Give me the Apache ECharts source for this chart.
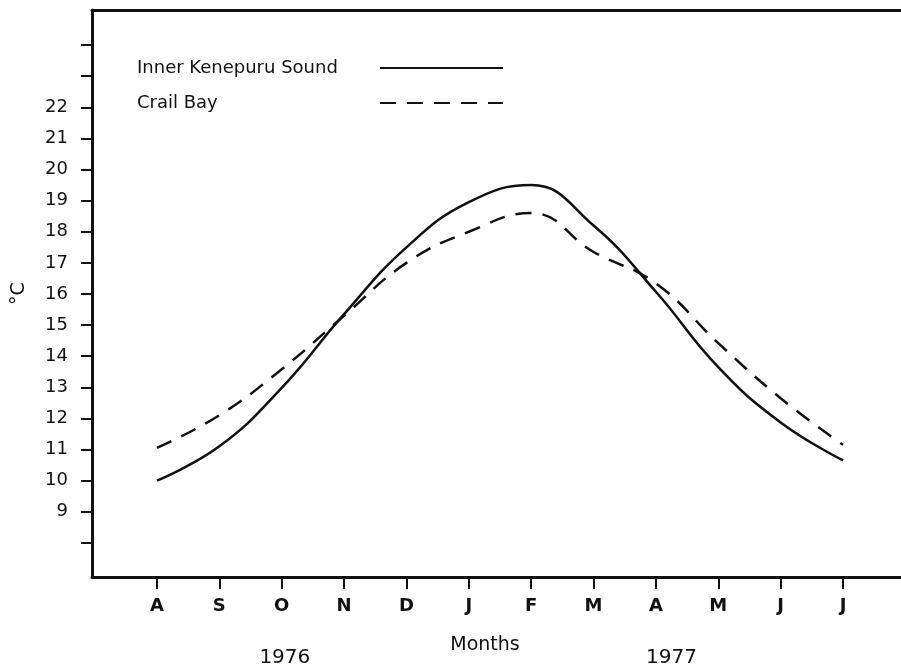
<!DOCTYPE html>
<html>
<head>
<meta charset="utf-8">
<script src="https://cdn.jsdelivr.net/npm/echarts@6/dist/echarts.min.js"></script>
<style>
  html, body { margin: 0; padding: 0; background: #fff; }
  #chart { width: 901px; height: 666px; }
</style>
</head>
<body>
<div id="chart"></div>
<script>
// Monthly water temperature, August 1976 to July 1977
const months = ['A', 'S', 'O', 'N', 'D', 'J', 'F', 'M', 'A', 'M', 'J', 'J'];
const innerKenepuruSound = [10.0, 11.1, 12.98, 15.35, 17.5, 18.95, 19.5, 18.2, 16.07, 13.65, 11.87, 10.65];
const crailBay = [11.05, 12.1, 13.58, 15.3, 17.0, 18.0, 18.6, 17.35, 16.34, 14.42, 12.65, 11.15];

// Tick marks on the temperature axis and the ones that carry a number
const tempTicks = [8, 9, 10, 11, 12, 13, 14, 15, 16, 17, 18, 19, 20, 21, 22, 23, 24];
const tempLabels = [9, 10, 11, 12, 13, 14, 15, 16, 17, 18, 19, 20, 21, 22];

// Year captions under the month axis (month index they sit under)
const yearCaptions = [
  { text: '1976', month: 2.05 },
  { text: '1977', month: 8.25 }
];

const INK = '#111';
const FONT = 'DejaVu Sans';

const monthIdx = months.map((m, i) => i);
const toPairs = vals => vals.map((v, i) => [monthIdx[i], v]);

const chart = echarts.init(document.getElementById('chart'), null, { renderer: 'canvas' });

const xMin = -1.042, xMax = 11.93;

const option = {
  backgroundColor: '#fff',
  animation: false,
  textStyle: { fontFamily: FONT, color: INK },
  grid: { left: 92, right: 0, top: 10, bottom: 89, containLabel: false, outerBoundsMode: 'none' },
  legend: {
    left: 137,
    top: 59,
    padding: 0,
    orient: 'vertical',
    align: 'right',
    itemGap: 17,
    itemWidth: 123,
    itemHeight: 20,
    selectedMode: false,
    itemStyle: { opacity: 0, borderWidth: 0 },
    formatter: name => '{t|' + name + '}',
    textStyle: {
      rich: {
        t: { width: 238, align: 'left', fontFamily: FONT, fontSize: 18, color: INK }
      }
    },
    data: ['Inner Kenepuru Sound', 'Crail Bay']
  },
  xAxis: [
    {
      type: 'value',
      min: xMin,
      max: xMax,
      position: 'bottom',
      axisLine: { show: true, onZero: false, lineStyle: { color: INK, width: 3 } },
      axisTick: {
        show: true, inside: false, length: 12,
        customValues: monthIdx,
        lineStyle: { color: INK, width: 2 }
      },
      axisLabel: {
        show: true, margin: 20,
        customValues: monthIdx,
        formatter: v => months[Math.round(v)] || '',
        fontFamily: FONT, fontSize: 18, color: INK, fontWeight: 'bold'
      },
      splitLine: { show: false }
    },
    {
      type: 'value',
      min: xMin,
      max: xMax,
      position: 'top',
      axisLine: { show: true, onZero: false, lineStyle: { color: INK, width: 3 } },
      axisTick: { show: false },
      axisLabel: { show: false },
      splitLine: { show: false }
    }
  ],
  yAxis: {
    type: 'value',
    min: 6.9,
    max: 25.13,
    name: '°C',
    nameLocation: 'middle',
    nameGap: 63,
    nameRotate: 90,
    nameTextStyle: { fontFamily: FONT, fontSize: 19, color: INK },
    axisLine: { show: true, onZero: false, lineStyle: { color: INK, width: 3 } },
    axisTick: {
      show: true, inside: false, length: 11,
      customValues: tempTicks,
      lineStyle: { color: INK, width: 2 }
    },
    axisLabel: {
      show: true, margin: 24,
      customValues: tempLabels,
      fontFamily: FONT, fontSize: 18, color: INK
    },
    splitLine: { show: false }
  },
  series: [
    {
      name: 'Inner Kenepuru Sound',
      type: 'line',
      data: toPairs(innerKenepuruSound),
      smooth: 0.45,
      showSymbol: false,
      symbol: 'none',
      lineStyle: { color: INK, width: 2.5, type: 'solid' },
      itemStyle: { color: INK }
    },
    {
      name: 'Crail Bay',
      type: 'line',
      data: toPairs(crailBay),
      smooth: 0.45,
      showSymbol: false,
      symbol: 'none',
      lineStyle: { color: INK, width: 2.5, type: [16, 11] },
      itemStyle: { color: INK }
    }
  ],
  graphic: []
};

chart.setOption(option);

// Axis title and year captions under the month labels
const captionY = 658;
const graphics = [
  {
    type: 'text',
    x: 485, y: 645,
    style: { text: 'Months', fontFamily: FONT, fontSize: 19, fill: INK, align: 'center', verticalAlign: 'middle' }
  }
];
yearCaptions.forEach(c => {
  const px = chart.convertToPixel({ xAxisIndex: 0 }, c.month);
  graphics.push({
    type: 'text',
    x: px, y: captionY,
    style: { text: c.text, fontFamily: FONT, fontSize: 20, fill: INK, align: 'center', verticalAlign: 'middle' }
  });
});
chart.setOption({ graphic: graphics });
</script>
</body>
</html>
